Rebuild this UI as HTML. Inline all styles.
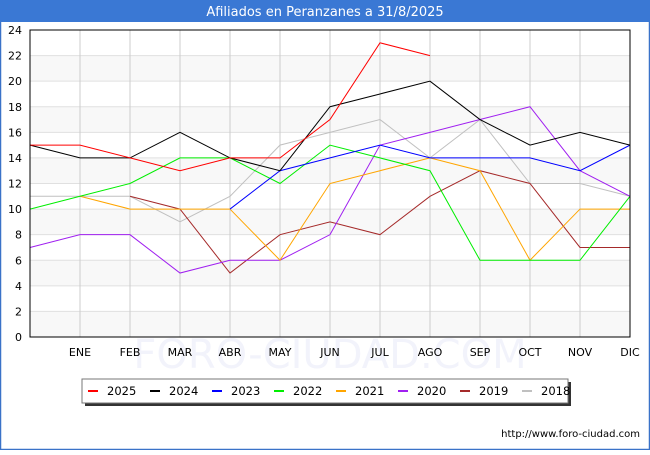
<!DOCTYPE html>
<html><head><meta charset="utf-8"><style>
body{margin:0;width:650px;height:450px;overflow:hidden;font-family:"Liberation Sans","DejaVu Sans",sans-serif;background:#fff}
</style></head><body>
<svg id="chart" width="650" height="450" xmlns="http://www.w3.org/2000/svg" font-family="DejaVu Sans, Liberation Sans, sans-serif">
<rect x="0.5" y="0.5" width="649" height="449" fill="#fff" stroke="#3a72c8" stroke-width="1.5"/>
<rect x="0" y="0" width="650" height="22" fill="#3a78d4"/>
<text x="325" y="16" text-anchor="middle" fill="#fff" font-size="13">Afiliados en Peranzanes a 31/8/2025</text>
<g id="bands"></g><g id="grid"></g>
<text x="330" y="368" text-anchor="middle" font-size="40" fill="#f2f3fb">FORO-CIUDAD.COM</text>
<g id="series"></g><g id="axes"></g>
<rect x="85" y="382" width="486" height="24" fill="#333"/>
<rect x="82" y="379" width="486" height="24" fill="#fff" stroke="#777"/>
<g id="legend"></g>
<text x="640" y="437" text-anchor="end" font-size="10" fill="#000">http://www.foro-ciudad.com</text>
</svg>
<script>
const months=["","ENE","FEB","MAR","ABR","MAY","JUN","JUL","AGO","SEP","OCT","NOV","DIC"];
const yTicks=[0,2,4,6,8,10,12,14,16,18,20,22,24];
const years=["2025","2024","2023","2022","2021","2020","2019","2018"];
const colors=["#ff0000","#000000","#0000ff","#00ee00","#ffa500","#a020f0","#a52a2a","#c0c0c0"];
const s2025=[15,15,14,13,14,14,17,23,22];
const s2024=[15,14,14,16,14,13,18,19,20,17,15,16,15];
const s2023=[null,null,null,null,10,13,14,15,14,14,14,13,15];
const s2022=[10,11,12,14,14,12,15,14,13,6,6,6,11];
const s2021=[null,11,10,10,10,6,12,13,14,13,6,10,10];
const s2020=[7,8,8,5,6,6,8,15,16,17,18,13,11];
const s2019=[null,null,11,10,5,8,9,8,11,13,12,7,7];
const s2018=[11,11,11,9,11,15,16,17,14,17,12,12,11];
const allSeries=[s2025,s2024,s2023,s2022,s2021,s2020,s2019,s2018];
const L=30,R=630,T=30,B=337,ymax=24;
const X=i=>L+i*(R-L)/(months.length-1);
const Y=v=>B-v*(B-T)/ymax;
const NS="http://www.w3.org/2000/svg";
function mk(tag,attrs,parent){const e=document.createElementNS(NS,tag);for(const k in attrs)e.setAttribute(k,attrs[k]);document.getElementById(parent).appendChild(e);return e;}
for(let i=0;i<yTicks.length-1;i++){
 const r=mk('rect',{x:L,y:Y(yTicks[i+1]),width:R-L,height:Y(yTicks[i])-Y(yTicks[i+1]),fill:i%2==0?'#f8f8f8':'#fff'},'bands');
 
 
}
yTicks.forEach(v=>{
 const l=mk('line',{x1:L,x2:R,y1:Y(v),y2:Y(v),stroke:'#e0e0e0'},'grid');
 
 
 const t=mk('text',{x:L-8,y:Y(v)+4,'text-anchor':'end','font-size':11},'axes');
 t.textContent=v;
 
 
});
months.forEach((m,i)=>{
 if(i>0){const l=mk('line',{x1:X(i),x2:X(i),y1:T,y2:B,stroke:'#cccccc'},'grid');
 
 }
 const t=mk('text',{x:X(i),y:B+19,'text-anchor':'middle','font-size':11},'axes');
 t.textContent=m;
 
 
});
const fr=mk('rect',{x:L,y:T,width:R-L,height:B-T,fill:'none',stroke:'#000'},'axes');


for(let k=allSeries.length-1;k>=0;k--){
 const d=allSeries[k];let p='';let pen=false;
 d.forEach((v,i)=>{if(v==null){pen=false;return;}p+=(pen?'L':'M')+X(i)+' '+Y(v)+' ';pen=true;});
 const e=mk('path',{d:p,fill:'none',stroke:colors[k],'stroke-width':1},'series');
 
 
}
years.forEach((y,k)=>{
 const x=88+k*62;
 const m=mk('line',{x1:x,x2:x+10,y1:391,y2:391,stroke:colors[k],'stroke-width':2},'legend');
 
 
 const t=mk('text',{x:x+19,y:395,'font-size':11.5},'legend');
 t.textContent=y;
 
 
});
</script>
</body></html>
